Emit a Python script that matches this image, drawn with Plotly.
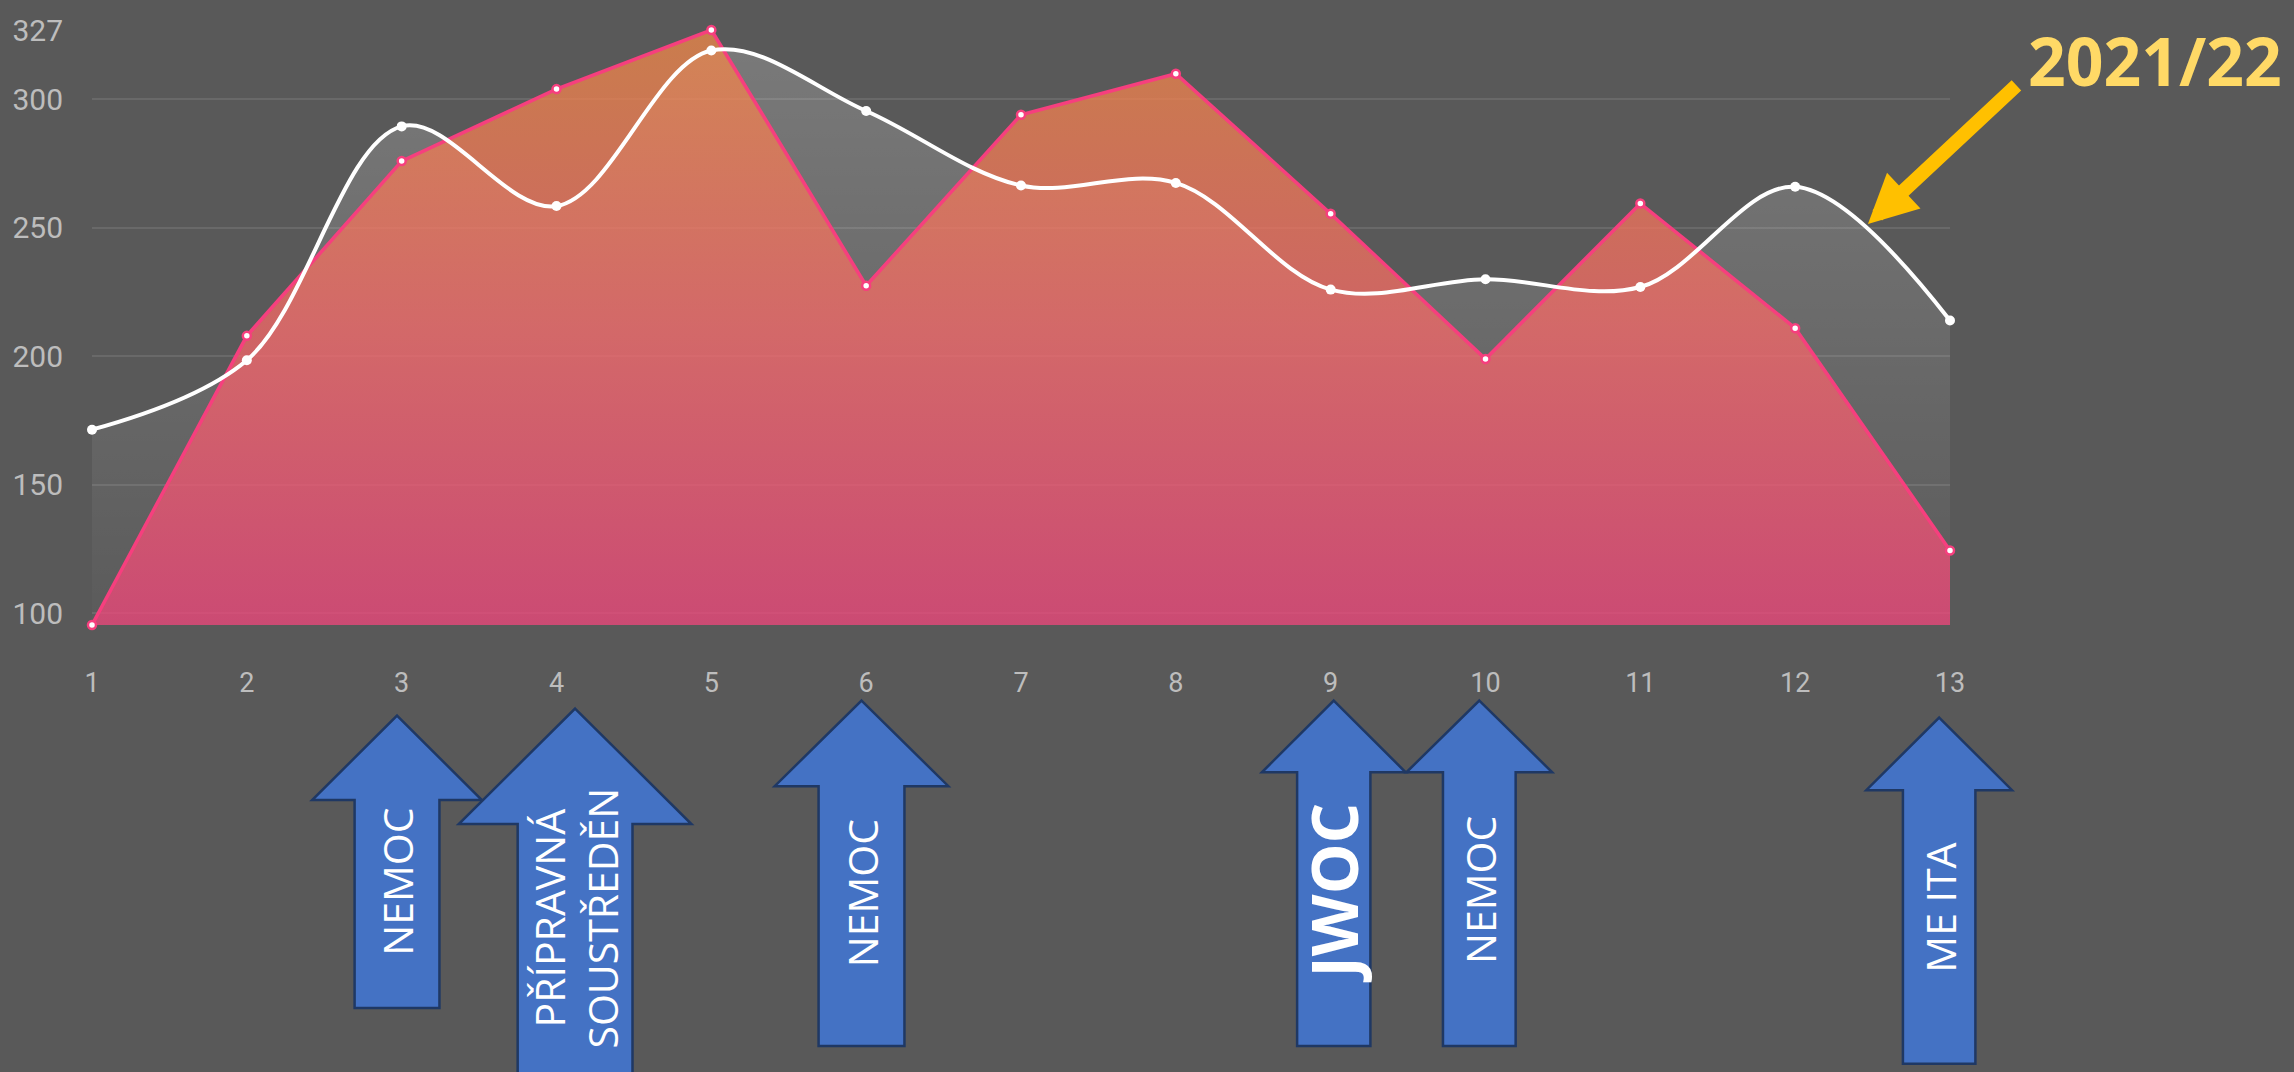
import plotly.graph_objects as go

# ---------------- data ----------------
weeks = list(range(1, 14))
season_2122 = [171.5, 198.5, 289.5, 258.5, 319, 295.5, 266.5, 267.5, 226, 230, 227, 266, 214]   # white spline
season_other = [95.5, 208, 276, 304, 327, 227.5, 294, 310, 255.5, 199, 259.5, 211, 124.5]     # pink area
y_ticks = [100, 150, 200, 250, 300, 327]
y_min, y_max = 95.5, 327

event_labels = ["NEMOC", "PŘÍPRAVNÁ<br>SOUSTŘEDĚN", "NEMOC", "<b>JWOC</b>", "NEMOC", "ME ITA"]
event_weeks = [2.97, 4.12, 5.97, 9.02, 9.96, 12.93]

season_label = "2021/22"
pointer_week, pointer_value = 12.47, 251.5

# ---------------- geometry ----------------
FIG_W, FIG_H = 2294, 1072
L, T = 89, 27
PLOT_R, PLOT_B = 1950, 625
W, H = PLOT_R - L, PLOT_B - T

def pxx(px):
    return (px - L) / W

def pxy(py):
    return (PLOT_B - py) / H

def week_px(wk):
    return L + (wk - weeks[0]) / (weeks[-1] - weeks[0]) * W

# per-arrow shape styling (pixels): tip y, head base y, bottom y, head half width, shaft half width, text y, font size
arrow_style = [
    (716, 801, 1010, 85, 42.5, 883, 41),
    (709, 825, 1090, 116.5, 57.5, 920, 41),
    (701, 787, 1048, 87, 43, 895, 41),
    (701, 773, 1048, 72, 36.7, 894, 64),
    (701, 773, 1048, 73, 36.4, 891, 41),
    (718, 791, 1066, 73, 36.3, 909, 41),
]

fig = go.Figure()

# white translucent area (drawn first, under the pink area)
fig.add_trace(go.Scatter(
    x=weeks, y=season_2122, mode="lines",
    line=dict(width=0, shape="spline", color="white"),
    fill="tozeroy",
    fillgradient=dict(type="vertical", start=y_min, stop=y_max,
                      colorscale=[[0, "rgba(255,255,255,0.01)"], [1, "rgba(255,255,255,0.2)"]]),
    hoverinfo="skip", showlegend=False,
))
# pink area (semi-transparent gradient)
fig.add_trace(go.Scatter(
    x=weeks, y=season_other, mode="lines",
    line=dict(width=0, color="#f4407f"),
    fill="tozeroy",
    fillgradient=dict(type="vertical", start=y_min, stop=y_max,
                      colorscale=[[0, "rgba(241,69,124,0.75)"], [0.5, "rgba(246,104,104,0.75)"],
                                  [1, "rgba(240,137,72,0.75)"]]),
    hoverinfo="skip", showlegend=False,
))
# pink line
fig.add_trace(go.Scatter(
    x=weeks, y=season_other, mode="lines+markers",
    line=dict(width=3.5, color="#f63f7e"),
    marker=dict(size=8, color="white", line=dict(width=2.5, color="#f63f7e")),
    cliponaxis=False, showlegend=False,
))
# white spline line
fig.add_trace(go.Scatter(
    x=weeks, y=season_2122, mode="lines+markers",
    line=dict(width=4, color="white", shape="spline"),
    marker=dict(size=10, color="white"),
    cliponaxis=False, showlegend=False,
))

shapes = []
annotations = []
for label, wk, st in zip(event_labels, event_weeks, arrow_style):
    tip, base, bottom, hw, sw, ty, fs = st
    cx = week_px(wk)
    pts = [(cx, tip), (cx + hw, base), (cx + sw, base), (cx + sw, bottom),
           (cx - sw, bottom), (cx - sw, base), (cx - hw, base)]
    path = "M " + " L ".join(f"{pxx(x):.5f},{pxy(y):.5f}" for x, y in pts) + " Z"
    shapes.append(dict(type="path", path=path, xref="paper", yref="paper",
                       fillcolor="#4472C4", line=dict(color="#1F3864", width=2.5),
                       layer="above"))
    annotations.append(dict(text=label, xref="paper", yref="paper",
                            x=pxx(cx), y=pxy(ty), textangle=-90,
                            showarrow=False, xanchor="center", yanchor="middle",
                            font=dict(family="Open Sans", size=fs, color="white")))

# season label and yellow pointer
annotations.append(dict(text=f"<b>{season_label}</b>", xref="paper", yref="paper",
                        x=pxx(2155), y=pxy(57), showarrow=False,
                        xanchor="center", yanchor="middle",
                        font=dict(family="Open Sans", size=66, color="#FFD966")))
annotations.append(dict(text="", xref="x", yref="y", x=pointer_week, y=pointer_value,
                        ax=150, ay=-140, showarrow=True, arrowhead=2, arrowsize=0.7,
                        arrowwidth=14, arrowcolor="#FFC000", standoff=0))

fig.update_layout(
    width=FIG_W, height=FIG_H,
    margin=dict(l=L, r=FIG_W - PLOT_R, t=T, b=FIG_H - PLOT_B, pad=0),
    paper_bgcolor="#595959", plot_bgcolor="#595959",
    shapes=shapes, annotations=annotations,
    xaxis=dict(range=[weeks[0], weeks[-1]], tickvals=weeks, showgrid=False, zeroline=False,
               showline=False, ticks="outside", ticklen=34, tickcolor="rgba(0,0,0,0)",
               tickfont=dict(family="Roboto", size=27, color="#bdbdbd")),
    yaxis=dict(range=[y_min, y_max], tickvals=y_ticks, showgrid=True,
               gridcolor="rgba(255,255,255,0.1)", gridwidth=2, zeroline=False,
               showline=False, ticks="outside", ticklen=22, tickcolor="rgba(0,0,0,0)",
               tickfont=dict(family="Roboto", size=30, color="#bdbdbd")),
)

fig.write_html("out.html", config={"displayModeBar": False})
